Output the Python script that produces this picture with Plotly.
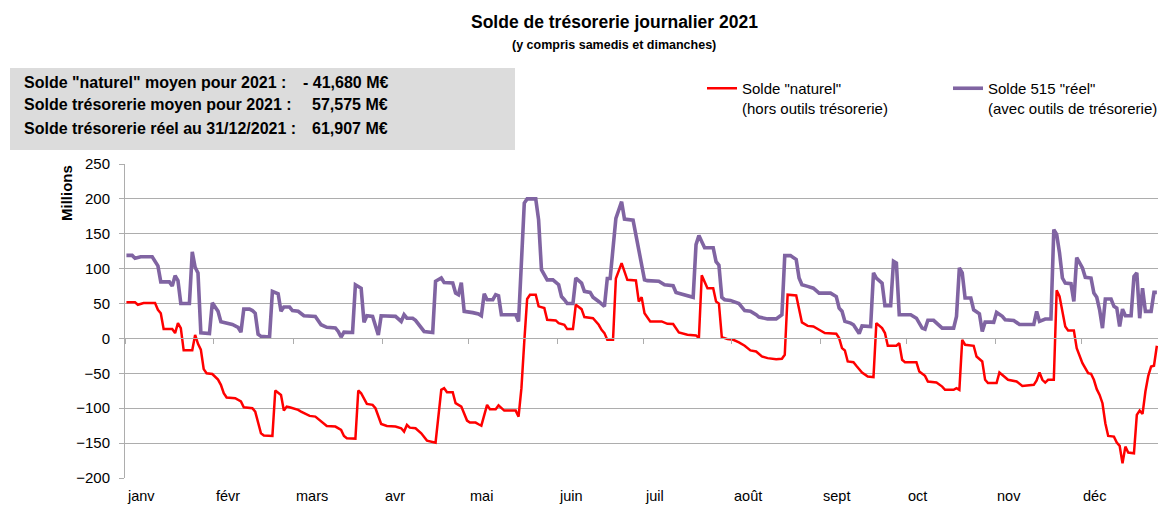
import plotly.graph_objects as go
import pandas as pd

# ---- data (day index: 0 = 1er janvier 2021), values in millions of euros ----
jour_naturel = [0, 3, 4, 6, 10, 11, 12, 13, 16, 17, 18, 19, 20, 23, 24, 25, 26, 27, 28, 30,
                32, 33, 34, 35, 38, 40, 41, 44, 45, 47, 48, 51, 52, 54, 55, 56, 57, 60, 61, 64,
                66, 69, 70, 73, 75, 76, 77, 80, 81, 82, 84, 86, 87, 89, 91, 94, 96, 97, 98, 99,
                101, 103, 105, 108, 110, 111, 112, 114, 115, 117, 119, 120, 122, 123, 124, 126, 127, 129, 130, 132,
                136, 137, 138, 139, 140, 141, 143, 144, 146, 147, 150, 151, 153, 154, 156, 157, 159, 160, 163, 165,
                166, 167, 168, 170, 171, 173, 175, 178, 179, 180, 181, 183, 187, 189, 191, 193, 196, 199, 200, 201,
                203, 205, 206, 207, 208, 210, 212, 214, 216, 218, 220, 222, 224, 227, 229, 230, 231, 234, 235, 236,
                238, 240, 242, 244, 248, 249, 250, 251, 252, 254, 255, 257, 259, 261, 262, 264, 265, 266, 269, 270,
                271, 272, 276, 277, 279, 280, 283, 285, 286, 289, 290, 291, 292, 293, 296, 297, 299, 300, 301, 304,
                305, 308, 311, 313, 317, 318, 319, 320, 321, 322, 324, 325, 326, 328, 329, 331, 332, 333, 334, 336,
                337, 338, 339, 340, 341, 342, 343, 345, 346, 347, 348, 349, 350, 352, 353, 354, 355, 356, 357, 358,
                359, 360]
solde_naturel = [51.7, 51.7, 48.3, 50.7, 50.7, 41, 36, 13.4, 13.4, 7.7, 22, 14.8, -17, -17, 5, -7.7, -16, -44, -50, -51,
                 -59, -66.5, -78.5, -84.7, -85.7, -90.4, -98.6, -100, -104.8, -136, -139, -139.7, -74.6, -80.9, -103.4, -97.6, -98.6, -102.4, -104.8, -111,
                 -112, -121.5, -125.4, -126.3, -131, -139.7, -143, -143.5, -74.6, -78.5, -93.8, -95.2, -100, -122.5, -125.4, -126.3, -128.7, -133.5, -124, -127.8,
                 -128.7, -136, -146.4, -149.3, -73.7, -71.3, -77, -77, -92.8, -97.6, -117.7, -120.6, -120.6, -123, -125, -95.2, -101.4, -101.4, -96, -103.4,
                 -103.4, -112, -71.3, -4.3, 56.5, 62.7, 62.7, 46, 43.5, 26.8, 25.8, 22, 19.6, 13.4, 13.4, 48.3, 42, 30.6, 29, 19.6,
                 12.4, 7.7, -2, -2, 86, 108, 84, 83, 53, 59, 36, 24.4, 24.4, 21, 20.6, 8.6, 5.3, 4.3, 0.5, 90.4,
                 72, 72, 53, 50, 2, -1, -2, -5.7, -10.5, -17.2, -18.7, -25.8, -28.2, -29.7, -29.2, -23.4, 62.7, 61.7, 41, 23,
                 18, 17.2, 12.4, 7.7, 6.7, 0.5, -13.9, -17.2, -33, -34, -39.2, -48.8, -54.5, -55.5, 22, 14.8, 7.7, -10.5, -10.5, -6.7,
                 -30.6, -34, -34, -47.4, -53.6, -61.7, -63.2, -69, -73.7, -73.7, -71.3, -73.7, -2, -9, -10.5, -25.8, -33, -59.3, -64, -64,
                 -48.8, -59.3, -61.7, -68, -66.5, -60.3, -48.8, -59.3, -63.2, -59.3, -59.3, 69, 60.3, 17.2, 11.5, 11.5, -13.9, -25.8, -35.4, -49.8,
                 -50.7, -59.3, -72.7, -80.9, -92.8, -121.5, -139.7, -140.7, -149.3, -154, -179, -155, -163.6, -164.6, -109.6, -103.4, -108, -76, -53.6, -40.2,
                 -39.2, -10.5]

jour_reel = [0, 2, 3, 5, 9, 10, 11, 12, 15, 16, 17, 18, 19, 22, 23, 24, 25, 26, 29, 30,
             32, 33, 35, 37, 39, 40, 41, 43, 44, 45, 46, 47, 50, 51, 53, 54, 55, 57, 58, 60,
             62, 66, 68, 70, 73, 74, 75, 76, 79, 80, 82, 83, 84, 86, 88, 89, 94, 96, 97, 98,
             100, 101, 104, 107, 108, 110, 111, 114, 115, 116, 117, 118, 121, 123, 124, 125, 126, 128, 129, 130,
             131, 136, 137, 138, 139, 140, 143, 144, 145, 147, 149, 151, 152, 153, 154, 156, 157, 159, 160, 162,
             163, 165, 167, 168, 169, 171, 173, 174, 177, 179, 181, 182, 186, 188, 191, 192, 195, 198, 199, 200,
             202, 205, 206, 207, 208, 209, 211, 214, 216, 218, 220, 221, 224, 227, 229, 230, 232, 234, 235, 236,
             238, 240, 242, 246, 248, 249, 250, 251, 253, 254, 256, 257, 260, 261, 262, 264, 265, 267, 268, 269,
             270, 274, 276, 278, 279, 280, 282, 285, 289, 290, 291, 292, 293, 295, 296, 298, 299, 300, 302, 303,
             304, 306, 307, 310, 312, 317, 318, 319, 321, 323, 324, 325, 326, 327, 328, 330, 331, 332, 334, 335,
             337, 338, 339, 340, 341, 342, 344, 345, 346, 347, 348, 349, 351, 352, 353, 354, 355, 356, 358, 359,
             360]
solde_reel = [119, 119, 115, 117, 117, 110, 104, 81, 81, 75, 90, 83, 50, 50, 124, 102, 94, 8, 7, 51,
              39, 24, 22, 20, 16, 9, 42, 42, 40, 36, 6, 3, 2, 67.5, 64, 39, 45, 45, 40, 39,
              32.5, 31.6, 19.6, 16, 15, 10, 2, 9, 8.6, 77, 72, 23, 32.5, 31.6, 5, 32.5, 31.6, 24.4, 34, 29,
              29, 26, 10, 8.6, 82, 86.6, 80, 79.4, 65, 62.7, 80, 38.8, 37, 35, 32.5, 64, 55.5, 55.5, 62.7, 61,
              34, 34, 24.4, 113, 194, 200, 200, 170, 98.6, 84, 84, 77, 60, 55.5, 50, 50, 86.6, 79.4, 67.5, 66,
              59, 53, 46, 86, 86, 172, 196, 171, 169.4, 127, 84, 82.8, 82, 77, 75.6, 66, 62.7, 59, 134.5, 147.4,
              130, 130, 110, 105, 59, 55.5, 54.5, 50, 40, 39, 34, 30.6, 28, 28, 34, 118.7, 118.7, 113, 86.6, 77,
              74.6, 72, 65, 65, 60, 43.5, 39, 24.4, 22, 19.6, 7, 18, 17, 94, 86.6, 79.4, 47, 47, 110.5, 108,
              34, 34, 29, 14.8, 13.4, 26, 26, 14.8, 14.8, 31.6, 101, 94, 58, 58, 41, 35.4, 10, 23.4, 23.4, 23,
              37.3, 31.6, 26.8, 25.8, 20, 20, 38.8, 24.4, 27.8, 27.8, 156, 149, 122.5, 86.6, 79.4, 78.5, 53, 116, 101, 87.6,
              86.6, 65, 59, 41, 14.8, 56.5, 56.5, 46, 43.5, 17, 42, 32.5, 32.5, 89, 94, 29, 72, 38.8, 38.8, 66,
              66]

mois = ["janv", "févr", "mars", "avr", "mai", "juin", "juil", "août", "sept", "oct", "nov", "déc"]

infos_libelles = ['Solde "naturel" moyen pour 2021 :',
                  'Solde trésorerie moyen pour 2021 :',
                  'Solde trésorerie réel au 31/12/2021 :']
infos_valeurs = ['- 41,680 M€', '57,575 M€', '61,907 M€']

# ---- derived ----
debut_mois = [(pd.Timestamp(2021, m, 1) - pd.Timestamp(2021, 1, 1)).days for m in range(1, 13)]

W, H = 1158, 505
# plot area in page pixels
PL, PR, PT, PB = 125, 1158, 164, 478
ML, MR, MT, MB = PL, W - PR, PT, H - PB
PW, PH = PR - PL, PB - PT
YMIN, YMAX = -200, 250


def px_x(px):
    return (px - PL) / PW


def px_y(py):
    return (PB - py) / PH


FONT = "Liberation Sans"
GRID = "#ADADAD"

fig = go.Figure()
fig.add_trace(go.Scatter(
    x=jour_naturel, y=solde_naturel, mode="lines",
    name='Solde "naturel"<br>(hors outils trésorerie)',
    line=dict(color="#FF0000", width=2.5),
))
fig.add_trace(go.Scatter(
    x=jour_reel, y=solde_reel, mode="lines",
    name='Solde 515 "réel"<br>(avec outils de trésorerie)',
    line=dict(color="#8064A2", width=3.6),
))

annotations = []
annotations.append(dict(text="<b>Solde de trésorerie journalier 2021</b>", x=px_x(614), y=px_y(22),
                        xref="paper", yref="paper", showarrow=False, xanchor="center", yanchor="middle",
                        font=dict(family=FONT, size=17.5, color="#000")))
annotations.append(dict(text="<b>(y compris samedis et dimanches)</b>", x=px_x(614), y=px_y(45),
                        xref="paper", yref="paper", showarrow=False, xanchor="center", yanchor="middle",
                        font=dict(family=FONT, size=12.5, color="#000")))
for i, (lib, val) in enumerate(zip(infos_libelles, infos_valeurs)):
    yy = px_y(82 + 23 * i)
    annotations.append(dict(text="<b>" + lib + "</b>", x=px_x(22), y=yy, xref="paper", yref="paper",
                            showarrow=False, xanchor="left", yanchor="middle",
                            font=dict(family=FONT, size=16, color="#000")))
    annotations.append(dict(text="<b>" + val + "</b>", x=px_x(390), y=yy, xref="paper", yref="paper",
                            showarrow=False, xanchor="right", yanchor="middle",
                            font=dict(family=FONT, size=16, color="#000")))
annotations.append(dict(text="<b>Millions</b>", x=px_x(66), y=px_y(193), xref="paper", yref="paper",
                        showarrow=False, textangle=-90, xanchor="center", yanchor="middle",
                        font=dict(family=FONT, size=15, color="#000")))
for d, m in zip(debut_mois, mois):
    annotations.append(dict(text=m, x=d - 0.5, y=px_y(496), xref="x", yref="paper",
                            showarrow=False, xanchor="left", yanchor="middle",
                            font=dict(family=FONT, size=14.5, color="#000")))

fig.update_layout(
    width=W, height=H,
    margin=dict(l=ML, r=MR, t=MT, b=MB, pad=0),
    paper_bgcolor="white", plot_bgcolor="white",
    showlegend=True,
    legend=dict(orientation="h", xref="container", yref="container",
                x=702 / W, y=1 - 72 / H, xanchor="left", yanchor="top",
                valign="top", entrywidth=201, entrywidthmode="pixels",
                font=dict(family=FONT, size=15, color="#000"),
                bgcolor="rgba(0,0,0,0)", tracegroupgap=0),
    annotations=annotations,
    shapes=[dict(type="rect", xref="paper", yref="paper",
                 x0=px_x(10), x1=px_x(515), y0=px_y(150), y1=px_y(68),
                 fillcolor="#DCDCDC", line=dict(width=0), layer="below")],
    xaxis=dict(range=[-0.5, 360.4],
               anchor="free", position=(0 - YMIN) / (YMAX - YMIN),
               tickmode="array", tickvals=[d - 0.5 for d in debut_mois],
               ticks="outside", ticklen=5, tickcolor=GRID, tickwidth=1,
               showticklabels=False, showgrid=False, zeroline=False,
               showline=True, linecolor=GRID, linewidth=1),
    yaxis=dict(range=[YMIN, YMAX], dtick=50, tick0=0,
               showgrid=True, gridcolor=GRID, gridwidth=1, zeroline=False,
               showline=True, linecolor=GRID, linewidth=1,
               ticks="outside", ticklen=5, tickcolor=GRID,
               ticklabelstandoff=6,
               tickfont=dict(family=FONT, size=15, color="#000")),
    font=dict(family=FONT, color="#000"),
)

fig.write_html(
    "out.html",
    config={"displayModeBar": False},
    post_script="document.body.style.margin='0';document.body.style.overflow='hidden';",
)
